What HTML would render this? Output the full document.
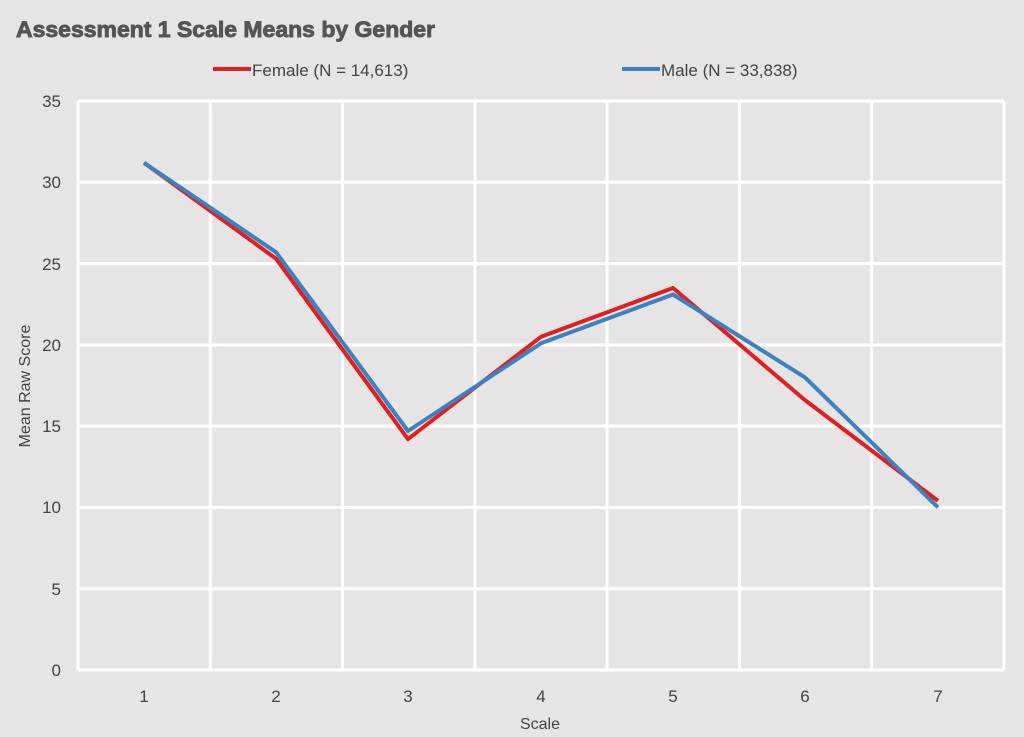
<!DOCTYPE html>
<html><head><meta charset="utf-8"><style>
html,body{margin:0;padding:0;background:#e6e4e4;}
svg{display:block;font-family:"Liberation Sans",sans-serif;}
</style></head><body>
<svg width="1024" height="737" viewBox="0 0 1024 737">
<rect width="1024" height="737" fill="#e6e4e4"/>
<text x="16" y="37" font-size="22.5" font-weight="bold" fill="#555" stroke="#555" stroke-width="0.9" textLength="419" lengthAdjust="spacingAndGlyphs">Assessment 1 Scale Means by Gender</text>
<line x1="213" y1="69" x2="251" y2="69" stroke="#e02020" stroke-width="4"/>
<text x="252" y="76" font-size="17" fill="#444">Female (N = 14,613)</text>
<line x1="622" y1="69" x2="660" y2="69" stroke="#3c82c0" stroke-width="4"/>
<text x="661" y="76" font-size="17" fill="#444">Male (N = 33,838)</text>
<g stroke="#fff" stroke-width="3">
<line x1="78" y1="101" x2="1004" y2="101"/>
<line x1="78" y1="182.3" x2="1004" y2="182.3"/>
<line x1="78" y1="263.6" x2="1004" y2="263.6"/>
<line x1="78" y1="344.9" x2="1004" y2="344.9"/>
<line x1="78" y1="426.1" x2="1004" y2="426.1"/>
<line x1="78" y1="507.4" x2="1004" y2="507.4"/>
<line x1="78" y1="588.7" x2="1004" y2="588.7"/>
<line x1="78" y1="670" x2="1004" y2="670"/>
<line x1="78" y1="101" x2="78" y2="670"/>
<line x1="210.3" y1="101" x2="210.3" y2="670"/>
<line x1="342.6" y1="101" x2="342.6" y2="670"/>
<line x1="474.9" y1="101" x2="474.9" y2="670"/>
<line x1="607.1" y1="101" x2="607.1" y2="670"/>
<line x1="739.4" y1="101" x2="739.4" y2="670"/>
<line x1="871.7" y1="101" x2="871.7" y2="670"/>
<line x1="1004" y1="101" x2="1004" y2="670"/>
</g>
<g font-size="17" fill="#444" text-anchor="end">
<text x="61" y="107">35</text><text x="61" y="188">30</text><text x="61" y="270">25</text>
<text x="61" y="351">20</text><text x="61" y="432">15</text><text x="61" y="513">10</text>
<text x="61" y="595">5</text><text x="61" y="676">0</text>
</g>
<g font-size="17" fill="#444" text-anchor="middle">
<text x="144" y="702">1</text><text x="276" y="702">2</text><text x="408" y="702">3</text>
<text x="541" y="702">4</text><text x="673" y="702">5</text><text x="805" y="702">6</text>
<text x="938" y="702">7</text>
<text x="540" y="729" font-size="16">Scale</text>
</g>
<text transform="translate(30,386) rotate(-90)" font-size="16" fill="#444" text-anchor="middle">Mean Raw Score</text>
<polyline fill="none" stroke="#e02020" stroke-width="4" stroke-linejoin="round" points="144,162.8 276,258.7 408,439.1 541,336.8 673,288 805,400.1 938,500.9"/>
<polyline fill="none" stroke="#3c82c0" stroke-width="4" stroke-linejoin="round" points="144,162.8 276,252.2 408,431 541,343.3 673,294.5 805,377.4 938,507.4"/>
</svg>
</body></html>
